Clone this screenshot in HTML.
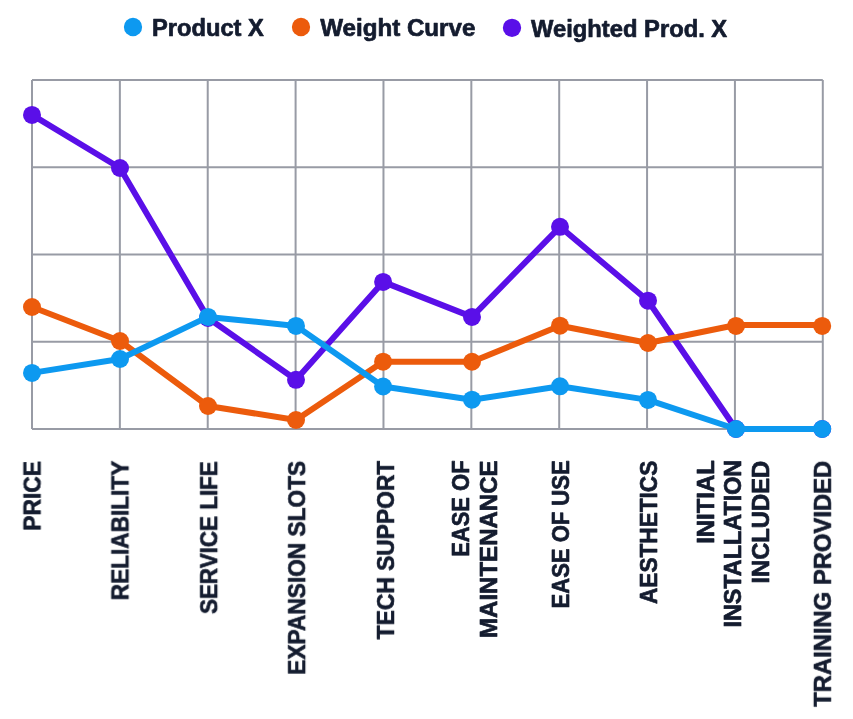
<!DOCTYPE html>
<html><head><meta charset="utf-8"><style>
html,body{margin:0;padding:0;background:#fff;width:853px;height:719px;overflow:hidden}
svg{display:block}
text{font-family:"Liberation Sans",sans-serif;font-weight:bold;font-size:24.0px;fill:#141c2f;stroke:#141c2f;stroke-width:0.7px;stroke-linejoin:round}
.t{will-change:transform}
</style></head><body>
<svg width="853" height="719" viewBox="0 0 853 719">
<rect width="853" height="719" fill="#fff"/>
<g class="t">
<circle cx="133.0" cy="27.0" r="9.15" fill="#0d99f0"/>
<text x="152.00" y="35.90" textLength="111.80" lengthAdjust="spacingAndGlyphs">Product X</text>
<circle cx="301.0" cy="27.0" r="9.15" fill="#ec5b0c"/>
<text x="320.20" y="35.90" textLength="155.20" lengthAdjust="spacingAndGlyphs">Weight Curve</text>
<circle cx="512.0" cy="27.8" r="9.15" fill="#5a0fe8"/>
<text x="531.00" y="36.70" textLength="196.20" lengthAdjust="spacingAndGlyphs">Weighted Prod. X</text>

</g>
<line x1="32.00" y1="80.0" x2="32.00" y2="429.0" stroke="#989ba5" stroke-width="2"/>
<line x1="119.87" y1="80.0" x2="119.87" y2="429.0" stroke="#989ba5" stroke-width="2"/>
<line x1="207.73" y1="80.0" x2="207.73" y2="429.0" stroke="#989ba5" stroke-width="2"/>
<line x1="295.60" y1="80.0" x2="295.60" y2="429.0" stroke="#989ba5" stroke-width="2"/>
<line x1="383.47" y1="80.0" x2="383.47" y2="429.0" stroke="#989ba5" stroke-width="2"/>
<line x1="471.33" y1="80.0" x2="471.33" y2="429.0" stroke="#989ba5" stroke-width="2"/>
<line x1="559.20" y1="80.0" x2="559.20" y2="429.0" stroke="#989ba5" stroke-width="2"/>
<line x1="647.07" y1="80.0" x2="647.07" y2="429.0" stroke="#989ba5" stroke-width="2"/>
<line x1="734.93" y1="80.0" x2="734.93" y2="429.0" stroke="#989ba5" stroke-width="2"/>
<line x1="822.80" y1="80.0" x2="822.80" y2="429.0" stroke="#989ba5" stroke-width="2"/>
<line x1="32.0" y1="80.00" x2="822.8" y2="80.00" stroke="#989ba5" stroke-width="2"/>
<line x1="32.0" y1="167.25" x2="822.8" y2="167.25" stroke="#989ba5" stroke-width="2"/>
<line x1="32.0" y1="254.50" x2="822.8" y2="254.50" stroke="#989ba5" stroke-width="2"/>
<line x1="32.0" y1="341.75" x2="822.8" y2="341.75" stroke="#989ba5" stroke-width="2"/>
<line x1="32.0" y1="429.00" x2="822.8" y2="429.00" stroke="#989ba5" stroke-width="2"/>

<polyline points="32.00,114.90 120.00,168.00 208.00,318.00 296.00,379.80 383.10,281.90 472.00,316.90 560.00,226.80 648.00,300.70 736.00,429.00 822.20,429.00" fill="none" stroke="#5a0fe8" stroke-width="6" stroke-linejoin="round"/>
<circle cx="32.00" cy="114.90" r="9" fill="#5a0fe8"/>
<circle cx="120.00" cy="168.00" r="9" fill="#5a0fe8"/>
<circle cx="208.00" cy="318.00" r="9" fill="#5a0fe8"/>
<circle cx="296.00" cy="379.80" r="9" fill="#5a0fe8"/>
<circle cx="383.10" cy="281.90" r="9" fill="#5a0fe8"/>
<circle cx="472.00" cy="316.90" r="9" fill="#5a0fe8"/>
<circle cx="560.00" cy="226.80" r="9" fill="#5a0fe8"/>
<circle cx="648.00" cy="300.70" r="9" fill="#5a0fe8"/>
<circle cx="736.00" cy="429.00" r="9" fill="#5a0fe8"/>
<circle cx="822.20" cy="429.00" r="9" fill="#5a0fe8"/>

<polyline points="32.00,307.00 120.00,341.00 208.00,406.00 296.00,420.00 383.10,361.70 472.00,361.75 560.00,325.70 648.00,343.00 736.00,325.00 822.20,325.00" fill="none" stroke="#ec5b0c" stroke-width="6" stroke-linejoin="round"/>
<circle cx="32.00" cy="307.00" r="9" fill="#ec5b0c"/>
<circle cx="120.00" cy="341.00" r="9" fill="#ec5b0c"/>
<circle cx="208.00" cy="406.00" r="9" fill="#ec5b0c"/>
<circle cx="296.00" cy="420.00" r="9" fill="#ec5b0c"/>
<circle cx="383.10" cy="361.70" r="9" fill="#ec5b0c"/>
<circle cx="472.00" cy="361.75" r="9" fill="#ec5b0c"/>
<circle cx="560.00" cy="325.70" r="9" fill="#ec5b0c"/>
<circle cx="648.00" cy="343.00" r="9" fill="#ec5b0c"/>
<circle cx="736.00" cy="325.90" r="9" fill="#ec5b0c"/>
<circle cx="822.20" cy="325.90" r="9" fill="#ec5b0c"/>

<polyline points="32.00,372.90 120.00,359.00 208.00,316.90 296.00,325.90 383.10,386.50 472.00,399.70 560.00,386.30 648.00,399.90 736.00,429.00 822.20,429.00" fill="none" stroke="#0d99f0" stroke-width="6" stroke-linejoin="round"/>
<circle cx="32.00" cy="372.90" r="9" fill="#0d99f0"/>
<circle cx="120.00" cy="359.00" r="9" fill="#0d99f0"/>
<circle cx="208.00" cy="316.90" r="9" fill="#0d99f0"/>
<circle cx="296.00" cy="325.90" r="9" fill="#0d99f0"/>
<circle cx="383.10" cy="386.50" r="9" fill="#0d99f0"/>
<circle cx="472.00" cy="399.70" r="9" fill="#0d99f0"/>
<circle cx="560.00" cy="386.30" r="9" fill="#0d99f0"/>
<circle cx="648.00" cy="399.90" r="9" fill="#0d99f0"/>
<circle cx="736.00" cy="429.00" r="9" fill="#0d99f0"/>
<circle cx="822.20" cy="429.00" r="9" fill="#0d99f0"/>

<g class="t">
<text transform="translate(40.55,461.00) rotate(-90)" text-anchor="end" textLength="69.80" lengthAdjust="spacingAndGlyphs">PRICE</text>
<text transform="translate(128.45,460.80) rotate(-90)" text-anchor="end" textLength="139.40" lengthAdjust="spacingAndGlyphs">RELIABILITY</text>
<text transform="translate(217.20,461.20) rotate(-90)" text-anchor="end" textLength="152.80" lengthAdjust="spacingAndGlyphs">SERVICE LIFE</text>
<text transform="translate(305.15,460.80) rotate(-90)" text-anchor="end" textLength="214.00" lengthAdjust="spacingAndGlyphs">EXPANSION SLOTS</text>
<text transform="translate(394.00,460.80) rotate(-90)" text-anchor="end" textLength="178.40" lengthAdjust="spacingAndGlyphs">TECH SUPPORT</text>
<text transform="translate(469.45,460.40) rotate(-90)" text-anchor="end" textLength="96.40" lengthAdjust="spacingAndGlyphs">EASE OF</text>
<text transform="translate(496.95,460.40) rotate(-90)" text-anchor="end" textLength="177.60" lengthAdjust="spacingAndGlyphs">MAINTENANCE</text>
<text transform="translate(568.60,460.40) rotate(-90)" text-anchor="end" textLength="148.00" lengthAdjust="spacingAndGlyphs">EASE OF USE</text>
<text transform="translate(657.25,460.80) rotate(-90)" text-anchor="end" textLength="143.20" lengthAdjust="spacingAndGlyphs">AESTHETICS</text>
<text transform="translate(713.95,460.20) rotate(-90)" text-anchor="end" textLength="83.60" lengthAdjust="spacingAndGlyphs">INITIAL</text>
<text transform="translate(741.00,459.80) rotate(-90)" text-anchor="end" textLength="167.80" lengthAdjust="spacingAndGlyphs">INSTALLATION</text>
<text transform="translate(768.50,460.80) rotate(-90)" text-anchor="end" textLength="122.80" lengthAdjust="spacingAndGlyphs">INCLUDED</text>
<text transform="translate(830.90,460.80) rotate(-90)" text-anchor="end" textLength="246.00" lengthAdjust="spacingAndGlyphs">TRAINING PROVIDED</text>

</g>
</svg>
</body></html>
